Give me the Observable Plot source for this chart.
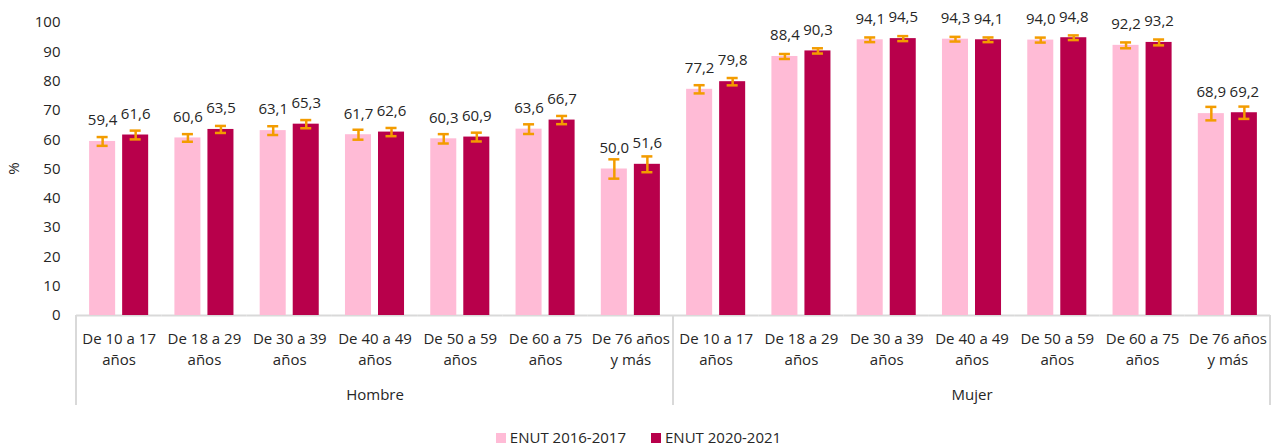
<!DOCTYPE html>
<html>
<head>
<meta charset="utf-8">
<script src="https://cdn.jsdelivr.net/npm/d3@7"></script>
<script src="https://cdn.jsdelivr.net/npm/@observablehq/plot@0.6"></script>
<style>
  html, body { margin: 0; padding: 0; background: #fff; }
  body { font-family: "Open Sans", sans-serif; color: #262626; }
  #legend { height: 30px; display: flex; align-items: center; justify-content: center; gap: 25px; font-size: 15px; margin-left: 6px; }
  #legend span.sw { display: inline-block; width: 10px; height: 10px; margin-right: 4px; }
</style>
</head>
<body>
<div id="chart"></div>
<div id="legend"></div>
<script>
const sexes = ["Hombre", "Mujer"];
const ages = ["De 10 a 17\naños", "De 18 a 29\naños", "De 30 a 39\naños", "De 40 a 49\naños", "De 50 a 59\naños", "De 60 a 75\naños", "De 76 años\ny más"];
const series = ["ENUT 2016-2017", "ENUT 2020-2021"];
const colors = ["#FFBBD6", "#B8004B"];
const yTicks = [0, 10, 20, 30, 40, 50, 60, 70, 80, 90, 100];

const hombre2016 = [59.4, 60.6, 63.1, 61.7, 60.3, 63.6, 50.0];
const hombre2020 = [61.6, 63.5, 65.3, 62.6, 60.9, 66.7, 51.6];
const mujer2016  = [77.2, 88.4, 94.1, 94.3, 94.0, 92.2, 68.9];
const mujer2020  = [79.8, 90.3, 94.5, 94.1, 94.8, 93.2, 69.2];

const errHombre2016 = [1.5, 1.3, 1.5, 1.7, 1.6, 1.65, 3.3];
const errHombre2020 = [1.5, 1.2, 1.4, 1.4, 1.5, 1.4, 2.7];
const errMujer2016  = [1.4, 0.85, 0.8, 0.8, 0.85, 1.0, 2.3];
const errMujer2020  = [1.25, 0.9, 0.85, 0.8, 0.8, 1.0, 2.1];

const values = {Hombre: [hombre2016, hombre2020], Mujer: [mujer2016, mujer2020]};
const errors = {Hombre: [errHombre2016, errHombre2020], Mujer: [errMujer2016, errMujer2020]};

const keys = [];
const rows = [];
for (const s of sexes) {
  ages.forEach((a, i) => {
    const key = s + "|" + a;
    keys.push(key);
    series.forEach((ser, j) => {
      const v = values[s][j][i];
      const e = errors[s][j][i];
      rows.push({key, series: ser, value: v, lo: v - e, hi: v + e, label: v.toFixed(1).replace(".", ",")});
    });
  });
}
const groupLabels = [
  {key: "Hombre|" + ages[3], text: "Hombre"},
  {key: "Mujer|" + ages[3], text: "Mujer"}
];

const orange = "#F39C00";
const textColor = "#262626";

const chart = Plot.plot({
  width: 1271,
  height: 422,
  marginLeft: 76,
  marginRight: 1,
  marginTop: 22,
  marginBottom: 107,
  style: {fontFamily: "'Open Sans', sans-serif", fontSize: "15px", color: textColor, background: "#fff"},
  fx: {domain: keys, padding: 0, round: false},
  x: {domain: series, paddingInner: 0.212, paddingOuter: 0.397, round: false, axis: null},
  y: {domain: [0, 100]},
  color: {domain: series, range: colors},
  marks: [
    Plot.ruleY([0], {stroke: "#d9d9d9", strokeWidth: 2}),
    Plot.barY(rows, {fx: "key", x: "series", y: "value", fill: "series"}),
    Plot.ruleX(rows, {fx: "key", x: "series", y1: "lo", y2: "hi", stroke: orange, strokeWidth: 2.5}),
    Plot.tickY(rows, {fx: "key", x: "series", y: "lo", stroke: orange, strokeWidth: 2.5, insetLeft: 7.5, insetRight: 7.5}),
    Plot.tickY(rows, {fx: "key", x: "series", y: "hi", stroke: orange, strokeWidth: 2.5, insetLeft: 7.5, insetRight: 7.5}),
    Plot.text(rows, {fx: "key", x: "series", y: "value", text: "label", dy: -21, fontSize: 15, fill: textColor}),
    Plot.axisY({ticks: yTicks, tickSize: 0, tickPadding: 16, fontSize: 15, label: null, fill: textColor}),
    Plot.axisFx({anchor: "bottom", tickSize: 0, tickPadding: 14, fontSize: 15, lineHeight: 1.4, label: null, tickFormat: k => k.split("|")[1], fill: textColor}),
    Plot.text(groupLabels, {fx: "key", text: "text", frameAnchor: "bottom", lineAnchor: "middle", dy: 80, fontSize: 15, fill: textColor})
  ]
});

document.getElementById("chart").appendChild(chart);

// separators below the axis, positioned through the chart's own scales
const fx = chart.scale("fx");
const y = chart.scale("y");
const y0 = y.apply(0);
const sepX = [fx.apply(keys[0]), fx.apply(keys[7]), fx.apply(keys[13]) + fx.bandwidth];
const svg = d3.select(chart);
svg.append("g").selectAll("line").data(sepX).join("line")
  .attr("x1", d => d).attr("x2", d => d)
  .attr("y1", y0).attr("y2", y0 + 90)
  .attr("stroke", "#d9d9d9").attr("stroke-width", 2);
svg.append("text")
  .attr("transform", `translate(15,${(y.apply(0) + y.apply(100)) / 2}) rotate(-90)`)
  .attr("text-anchor", "middle").attr("dominant-baseline", "middle")
  .attr("font-size", 15).attr("fill", textColor).text("%");

const legend = d3.select("#legend");
series.forEach((s, i) => {
  const item = legend.append("div");
  item.append("span").attr("class", "sw").style("background", colors[i]);
  item.append("span").text(s);
});
</script>
</body>
</html>
